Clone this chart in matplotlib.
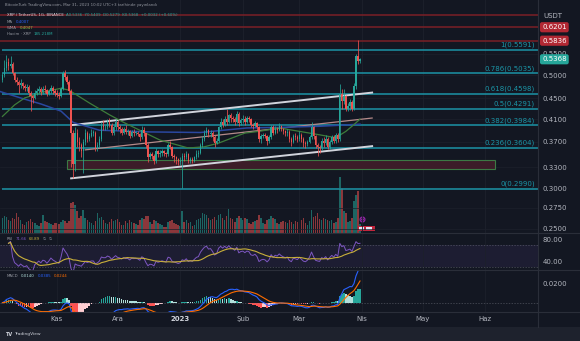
import numpy as np
import pandas as pd
import matplotlib
matplotlib.use("Agg")
import matplotlib.pyplot as plt
import matplotlib.dates as mdates
import matplotlib.transforms as mtransforms
from matplotlib.lines import Line2D
from matplotlib.patches import Rectangle
from matplotlib.ticker import NullLocator

# XRP / USDT daily candles (Oct 5 2022 -> Mar 31 2023)
start_date = "2022-10-05"
end_date = "2023-03-31"
first_open = 0.490

oct_close = [0.500, 0.515, 0.530, 0.520, 0.525, 0.505, 0.490, 0.485, 0.478, 0.482,
             0.476, 0.472, 0.474, 0.462, 0.455, 0.450, 0.462, 0.466, 0.470, 0.464,
             0.470, 0.468, 0.460, 0.465, 0.472, 0.466, 0.462]
oct_high = [0.505, 0.535, 0.547, 0.540, 0.545, 0.530, 0.508, 0.495, 0.490, 0.492,
            0.485, 0.480, 0.480, 0.477, 0.466, 0.458, 0.468, 0.472, 0.476, 0.474,
            0.476, 0.478, 0.470, 0.470, 0.478, 0.475, 0.470]
oct_low = [0.485, 0.495, 0.510, 0.512, 0.515, 0.500, 0.485, 0.478, 0.462, 0.472,
           0.470, 0.466, 0.466, 0.455, 0.425, 0.440, 0.448, 0.458, 0.462, 0.458,
           0.460, 0.462, 0.455, 0.456, 0.462, 0.460, 0.455]

nov_close = [0.458, 0.455, 0.470, 0.505, 0.495, 0.485, 0.465, 0.385, 0.335, 0.385,
             0.370, 0.365, 0.355, 0.370, 0.385, 0.375, 0.380, 0.385, 0.385, 0.360,
             0.365, 0.375, 0.400, 0.395, 0.395, 0.405, 0.400, 0.385, 0.395, 0.405]
nov_high = [0.468, 0.464, 0.474, 0.510, 0.512, 0.500, 0.488, 0.470, 0.390, 0.395,
            0.392, 0.378, 0.368, 0.375, 0.392, 0.388, 0.386, 0.392, 0.390, 0.388,
            0.370, 0.380, 0.405, 0.408, 0.400, 0.410, 0.412, 0.402, 0.400, 0.410]
nov_low = [0.452, 0.448, 0.452, 0.468, 0.488, 0.480, 0.460, 0.330, 0.315, 0.325,
           0.362, 0.355, 0.345, 0.322, 0.365, 0.370, 0.372, 0.378, 0.380, 0.355,
           0.355, 0.362, 0.372, 0.390, 0.390, 0.392, 0.396, 0.382, 0.382, 0.390]

dec_close = [0.395, 0.392, 0.386, 0.392, 0.387, 0.388, 0.380, 0.387, 0.385, 0.386,
             0.384, 0.378, 0.390, 0.385, 0.365, 0.345, 0.350, 0.348, 0.340, 0.355,
             0.350, 0.352, 0.355, 0.352, 0.350, 0.365, 0.362, 0.348, 0.345, 0.342, 0.338]
dec_high = [0.408, 0.400, 0.395, 0.396, 0.400, 0.392, 0.390, 0.390, 0.392, 0.389,
            0.388, 0.386, 0.398, 0.395, 0.386, 0.368, 0.354, 0.353, 0.350, 0.360,
            0.357, 0.356, 0.358, 0.356, 0.354, 0.368, 0.372, 0.363, 0.350, 0.348, 0.344]
dec_low = [0.390, 0.386, 0.382, 0.383, 0.383, 0.382, 0.376, 0.378, 0.380, 0.382,
           0.380, 0.372, 0.375, 0.380, 0.360, 0.338, 0.342, 0.342, 0.335, 0.337,
           0.345, 0.346, 0.348, 0.348, 0.346, 0.348, 0.358, 0.344, 0.338, 0.335, 0.333]

jan_close = [0.340, 0.348, 0.345, 0.350, 0.340, 0.342, 0.340, 0.345, 0.350, 0.352,
             0.365, 0.375, 0.385, 0.390, 0.383, 0.385, 0.378, 0.368, 0.372, 0.395,
             0.405, 0.400, 0.410, 0.405, 0.418, 0.412, 0.410, 0.405, 0.420, 0.402, 0.408]
jan_high = [0.345, 0.352, 0.352, 0.355, 0.352, 0.346, 0.345, 0.348, 0.356, 0.356,
            0.368, 0.380, 0.390, 0.395, 0.392, 0.390, 0.388, 0.382, 0.376, 0.398,
            0.412, 0.410, 0.415, 0.430, 0.420, 0.422, 0.415, 0.414, 0.425, 0.423, 0.412]
jan_low = [0.333, 0.300, 0.340, 0.342, 0.337, 0.336, 0.336, 0.338, 0.343, 0.346,
           0.350, 0.362, 0.372, 0.382, 0.378, 0.378, 0.372, 0.362, 0.366, 0.370,
           0.392, 0.395, 0.398, 0.400, 0.402, 0.405, 0.404, 0.400, 0.402, 0.398, 0.400]

feb_close = [0.410, 0.405, 0.412, 0.410, 0.400, 0.398, 0.402, 0.395, 0.375, 0.380,
             0.382, 0.380, 0.372, 0.378, 0.395, 0.385, 0.393, 0.390, 0.398, 0.392,
             0.388, 0.385, 0.387, 0.375, 0.370, 0.380, 0.378, 0.375]
feb_high = [0.418, 0.415, 0.416, 0.415, 0.412, 0.402, 0.406, 0.404, 0.398, 0.384,
            0.386, 0.385, 0.382, 0.382, 0.400, 0.400, 0.398, 0.396, 0.402, 0.400,
            0.394, 0.390, 0.392, 0.390, 0.378, 0.384, 0.385, 0.382]
feb_low = [0.402, 0.400, 0.402, 0.405, 0.396, 0.392, 0.395, 0.390, 0.370, 0.368,
           0.376, 0.376, 0.365, 0.368, 0.375, 0.382, 0.383, 0.385, 0.388, 0.388,
           0.383, 0.380, 0.380, 0.370, 0.364, 0.368, 0.374, 0.370]

mar_close = [0.382, 0.375, 0.368, 0.366, 0.370, 0.378, 0.395, 0.380, 0.365, 0.362,
             0.360, 0.372, 0.368, 0.375, 0.362, 0.370, 0.378, 0.372, 0.382, 0.375,
             0.460, 0.445, 0.455, 0.430, 0.435, 0.442, 0.430, 0.475, 0.545, 0.5336, 0.5368]
mar_high = [0.388, 0.385, 0.378, 0.372, 0.374, 0.382, 0.405, 0.398, 0.382, 0.368,
            0.365, 0.376, 0.378, 0.382, 0.378, 0.374, 0.382, 0.382, 0.386, 0.385,
            0.480, 0.470, 0.470, 0.458, 0.440, 0.448, 0.446, 0.482, 0.550, 0.585, 0.5409]
mar_low = [0.372, 0.370, 0.362, 0.360, 0.363, 0.368, 0.375, 0.375, 0.360, 0.348,
           0.352, 0.356, 0.362, 0.365, 0.358, 0.358, 0.366, 0.368, 0.368, 0.370,
           0.372, 0.430, 0.438, 0.425, 0.425, 0.428, 0.425, 0.428, 0.470, 0.525, 0.5279]

# volume in millions of XRP
oct_vol = [300, 340, 320, 260, 240, 300, 280, 400, 330, 260, 180, 170, 220, 240,
           280, 230, 200, 160, 150, 200, 360, 240, 220, 200, 180, 170, 210]
nov_vol = [200, 190, 230, 260, 240, 200, 240, 600, 620, 560, 440, 300, 340, 460, 300,
           260, 220, 200, 160, 240, 400, 300, 320, 260, 200, 180, 220, 280, 240, 260]
dec_vol = [280, 220, 160, 170, 240, 200, 260, 220, 200, 180, 160, 260, 300, 280, 340,
           340, 220, 180, 260, 240, 200, 180, 160, 120, 130, 220, 240, 260, 200, 190, 160]
jan_vol = [150, 440, 220, 260, 200, 220, 140, 160, 260, 280, 300, 400, 380, 360, 300,
           260, 280, 320, 260, 360, 380, 300, 260, 340, 480, 300, 280, 220, 300, 340, 300]
feb_vol = [260, 300, 280, 200, 180, 220, 240, 260, 360, 300, 200, 180, 260, 280,
           340, 300, 280, 200, 180, 220, 240, 220, 200, 260, 220, 180, 240, 220]
mar_vol = [220, 260, 300, 200, 160, 240, 460, 320, 340, 400, 280, 260, 300, 280, 260,
           240, 260, 200, 220, 300, 1120, 900, 440, 400, 220, 240, 300, 640, 760, 840, 185]

# moving averages drawn on the chart (read at a few points)
ma_dates = ["2022-10-04", "2022-10-14", "2022-10-24", "2022-11-03", "2022-11-09",
            "2022-11-22", "2022-12-17", "2023-01-11", "2023-02-03", "2023-02-19",
            "2023-03-11", "2023-03-31"]
ma_vals = [0.464, 0.451, 0.439, 0.425, 0.404, 0.390, 0.387, 0.386, 0.394, 0.395,
           0.397, 0.4007]
wma_dates = ["2022-10-05", "2022-10-11", "2022-10-16", "2022-10-26", "2022-11-03",
             "2022-11-07", "2022-11-17", "2022-11-27", "2022-12-04", "2022-12-22",
             "2023-01-05", "2023-01-13", "2023-01-20", "2023-02-02", "2023-02-09",
             "2023-02-19", "2023-03-01", "2023-03-11", "2023-03-19", "2023-03-24",
             "2023-03-28", "2023-03-31"]
wma_vals = [0.415, 0.437, 0.451, 0.464, 0.471, 0.467, 0.441, 0.418, 0.404, 0.373,
            0.360, 0.362, 0.368, 0.385, 0.388, 0.394, 0.388, 0.382, 0.377, 0.388,
            0.400, 0.410]

# drawings
fib_ratios = ["1", "0.786", "0.618", "0.5", "0.382", "0.236", "0"]
fib_prices = [0.5591, 0.5035, 0.4598, 0.4291, 0.3984, 0.3604, 0.2990]
fib_start = "2022-10-05"
red_levels = [0.655, 0.6201, 0.5836]
red_labels = ["", "0.6201", "0.5836"]
channel_dates = ["2022-11-08", "2023-04-06"]
channel_upper = [0.399, 0.462]
channel_lower = [0.314, 0.363]
mid_dates = ["2022-11-15", "2023-04-06"]
channel_mid = [0.357, 0.412]
zone_dates = ["2022-11-06", "2023-06-06"]
zone_prices = [0.328, 0.341]
last_price = 0.5368

price_ticks = [0.55, 0.50, 0.45, 0.41, 0.37, 0.33, 0.30, 0.275, 0.25]
month_ticks = ["2022-11-01", "2022-12-01", "2023-01-01", "2023-02-01", "2023-03-01",
               "2023-04-01", "2023-05-01", "2023-06-01"]
month_labels = ["Kas", "Ara", "2023", "Şub", "Mar", "Nis", "May", "Haz"]

BG = "#131722"
GRID = "#1c202b"
TXT = "#b2b5be"
UP = "#26a69a"
DOWN = "#ef5350"
FIB = "#1b94a6"
W, H = 580, 341

closes = np.array(oct_close + nov_close + dec_close + jan_close + feb_close + mar_close)
highs = np.array(oct_high + nov_high + dec_high + jan_high + feb_high + mar_high)
lows = np.array(oct_low + nov_low + dec_low + jan_low + feb_low + mar_low)
volume = np.array(oct_vol + nov_vol + dec_vol + jan_vol + feb_vol + mar_vol)
dates = pd.date_range(start_date, end_date, freq="D")
opens = np.r_[first_open, closes[:-1]]
x = mdates.date2num(dates)
up = closes >= opens
colors = np.where(up, UP, DOWN)

# indicators
s = pd.Series(closes)
delta = s.diff()
gain = delta.clip(lower=0).ewm(alpha=1 / 14, adjust=True, min_periods=3).mean()
loss = (-delta.clip(upper=0)).ewm(alpha=1 / 14, adjust=True, min_periods=3).mean()
rsi = 100 - 100 / (1 + gain / loss)
rsi_ma = rsi.rolling(14, min_periods=1).mean()
macd = s.ewm(span=12, adjust=False).mean() - s.ewm(span=26, adjust=False).mean()
signal = macd.ewm(span=9, adjust=False).mean()
hist = macd - signal
prev = hist.shift(1).fillna(0)
hist_cols = np.where(hist >= 0, np.where(hist >= prev, "#26a69a", "#b2dfdb"),
                     np.where(hist < prev, "#ff5252", "#ffcdd2"))

nov1 = mdates.date2num(pd.Timestamp("2022-11-01"))
xlim = (nov1 - 28.2, nov1 + 238.1)
months = mdates.date2num(pd.to_datetime(month_ticks))


def box(top, bottom, left=0, right=538):
    return [left / W, 1 - bottom / H, (right - left) / W, (bottom - top) / H]


fig = plt.figure(figsize=(W / 100, H / 100), dpi=100, facecolor=BG)
ax_vol = fig.add_axes(box(0, 233))
ax = fig.add_axes(box(0, 233))
ax_rsi = fig.add_axes(box(233, 270))
ax_macd = fig.add_axes(box(270, 312))

for a in (ax_vol, ax, ax_rsi, ax_macd):
    a.set_facecolor(BG)
    for sp in a.spines.values():
        sp.set_visible(False)
    a.set_xlim(*xlim)
    a.set_xticks(months)
    a.tick_params(length=0, labelsize=5, colors=TXT)
    a.grid(True, axis="x", color=GRID, lw=0.6)
ax.patch.set_visible(False)
ax_vol.set_zorder(0)
ax.set_zorder(1)
for a in (ax_vol, ax, ax_rsi):
    a.set_xticklabels([])
ax_vol.set_yticks([])

# volume
ax_vol.bar(x, volume, width=0.75, color=colors, alpha=0.55, linewidth=0)
ax_vol.set_ylim(0, 233 * 20)

# price pane
ax.set_yscale("log")
ax.set_ylim(0.2455, 0.701)
ax.yaxis.tick_right()
ax.set_yticks(price_ticks)
ax.set_yticklabels([f"{p:.4f}" for p in price_ticks])
ax.yaxis.set_minor_locator(NullLocator())
ax.tick_params(axis="y", pad=3.5)
ax.grid(True, axis="y", color=GRID, lw=0.5)

ax.hlines(red_levels, xlim[0], xlim[1], color="#7b1f26", lw=1.1, zorder=2)
ax.hlines(fib_prices, mdates.date2num(pd.Timestamp(fib_start)), xlim[1], color=FIB,
          lw=1.1, zorder=2)
lab_tr = mtransforms.offset_copy(mtransforms.blended_transform_factory(ax.transAxes, ax.transData),
                                 fig=fig, y=1.3, units="points")
for r, p in zip(fib_ratios, fib_prices):
    ax.text(0.994, p, f"{r}({p:.4f})", transform=lab_tr, ha="right", va="bottom",
            color=FIB, fontsize=5, zorder=3)

zd = mdates.date2num(pd.to_datetime(zone_dates))
ax.add_patch(Rectangle((zd[0], zone_prices[0]), zd[1] - zd[0], zone_prices[1] - zone_prices[0],
                       facecolor="#3c1d29", edgecolor="#3c7a45", lw=0.8, zorder=2))

cd = mdates.date2num(pd.to_datetime(channel_dates))
md = mdates.date2num(pd.to_datetime(mid_dates))
ax.plot(cd, channel_upper, color="#d1d4dc", lw=1.4, zorder=3)
ax.plot(cd, channel_lower, color="#d1d4dc", lw=1.4, zorder=3)
ax.plot(md, channel_mid, color="#b58a8a", lw=0.9, zorder=3)

ax.plot(mdates.date2num(pd.to_datetime(ma_dates)), ma_vals, color="#2a479f", lw=1.1, zorder=3)
ax.plot(mdates.date2num(pd.to_datetime(wma_dates)), wma_vals, color="#3e7d3b", lw=0.9, zorder=3)

# candles
body_lo = np.minimum(opens, closes)
body_hi = np.maximum(opens, closes)
ax.vlines(x, lows, highs, colors=colors, lw=0.55, zorder=4)
ax.bar(x, np.maximum(body_hi - body_lo, 0.0012), bottom=body_lo, width=0.65,
       color=colors, linewidth=0, zorder=4)

# price axis labels
rt = mtransforms.blended_transform_factory(ax.transAxes, ax.transData)
for p, lab in zip(red_levels, red_labels):
    if lab:
        ax.text(1.0075, p, lab, transform=rt, ha="left", va="center", color="white",
                fontsize=5, clip_on=False, zorder=6,
                bbox=dict(boxstyle="round,pad=0.3", fc="#b22833", ec="none"))
ax.text(1.0075, last_price, f"{last_price:.4f}", transform=rt, ha="left", va="center",
        color="white", fontsize=5, clip_on=False, zorder=6,
        bbox=dict(boxstyle="round,pad=0.3", fc=UP, ec="none"))
fig.text(543 / W, 1 - 16 / H, "USDT", color=TXT, fontsize=5, va="center")

# event markers near the last bar
ev = mdates.date2num(pd.Timestamp("2023-04-01"))
ax_vol.plot([ev], [280], marker="o", ms=3.5, mfc="none", mec="#9c27b0", mew=0.8, zorder=5)
ax_vol.plot([ev], [280], marker="o", ms=1.0, color="#9c27b0", zorder=5)
ax_vol.add_patch(Rectangle((ev - 2.2, 50), 8.5, 100, fc="#c2253c", ec="none", zorder=5))
for off in (-1.6, 2.2):
    ax_vol.add_patch(Rectangle((ev + off, 70), 2.6, 60, fc="#dfe6f5", ec="none", zorder=6))

# RSI pane
ax_rsi.set_ylim(25.2, 91.25)
ax_rsi.axhspan(30, 70, color="#7e57c2", alpha=0.1, lw=0)
ax_rsi.axhline(70, color="#787b86", lw=0.5, ls=(0, (2, 2)), alpha=0.6)
ax_rsi.axhline(30, color="#787b86", lw=0.5, ls=(0, (2, 2)), alpha=0.6)
ax_rsi.plot(x, rsi, color="#7e57c2", lw=0.7)
ax_rsi.plot(x, rsi_ma, color="#c9b03a", lw=0.8)
ax_rsi.yaxis.tick_right()
ax_rsi.set_yticks([80, 40])
ax_rsi.set_yticklabels(["80.00", "40.00"])
ax_rsi.tick_params(axis="y", pad=3.5)

# MACD pane
ax_macd.set_ylim(-0.0096, 0.0337)
ax_macd.axhline(0, color="#787b86", lw=0.5, ls=(0, (2, 2)), alpha=0.6)
ax_macd.bar(x, hist, width=0.8, color=hist_cols, linewidth=0)
ax_macd.plot(x, macd, color="#2962ff", lw=0.8)
ax_macd.plot(x, signal, color="#ff6d00", lw=0.8)
ax_macd.yaxis.tick_right()
ax_macd.set_yticks([0.02])
ax_macd.set_yticklabels(["0.0200"])
ax_macd.tick_params(axis="y", pad=3.5)
ax_macd.set_xticklabels(month_labels)
ax_macd.tick_params(axis="x", pad=3)
for t in ax_macd.get_xticklabels():
    if t.get_text() == "2023":
        t.set_color("#d1d4dc")
        t.set_fontweight("bold")

# pane separators and footer
for yy in (233, 270, 312):
    fig.add_artist(Line2D([0, 1], [1 - yy / H] * 2, color="#2a2e39", lw=0.8))
fig.add_artist(Line2D([538 / W] * 2, [14 / H, 1], color="#2a2e39", lw=0.8))
fig.add_artist(Rectangle((0, 0), 1, 14 / H, transform=fig.transFigure, fc="#1e222d", ec="none"))
fig.text(6 / W, 1 - 334 / H, "TV", color="#d1d4dc", fontsize=3.5, fontweight="bold", va="center")
fig.text(14 / W, 1 - 334 / H, "TradingView", color="#d1d4dc", fontsize=3.2, va="center")

# legend-like headers
renderer = fig.canvas.get_renderer()


def seg_text(x_px, y_px, parts, size=2.8, gap=2.5):
    for txt, col in parts:
        t = fig.text(x_px / W, 1 - y_px / H, txt, color=col, fontsize=size, va="center")
        x_px += t.get_window_extent(renderer=renderer).width + gap


seg_text(5, 5, [("BitcoinTurk TradingView.com, Mar 31, 2023 10:02 UTC+3 tarihinde yayınlandı", "#9598a1")])
seg_text(7, 15, [("XRP / TetherUS, 1G, BINANCE", "#d1d4dc"),
                 ("A0.5336  Y0.5409  D0.5279  K0.5368  +0.0032 (+0.60%)", UP)])
seg_text(7, 22, [("MA", "#9598a1"), ("0.4007", "#2962ff")])
seg_text(7, 28, [("WMA", "#9598a1"), ("0.4047", "#8bc34a")])
seg_text(7, 34, [("Hacim · XRP", "#9598a1"), ("185.218M", UP)])
seg_text(7, 239, [("RSI", "#9598a1"), ("71.66", "#7e57c2"), ("63.89", "#c9b03a"),
                  ("∅", "#9598a1"), ("∅", "#9598a1")])
seg_text(7, 276, [("MACD", "#9598a1"), ("0.0140", "#b2dfdb"), ("0.0385", "#2962ff"),
                  ("0.0244", "#ff6d00")])

fig.savefig("out.png", dpi=100, facecolor=BG)
